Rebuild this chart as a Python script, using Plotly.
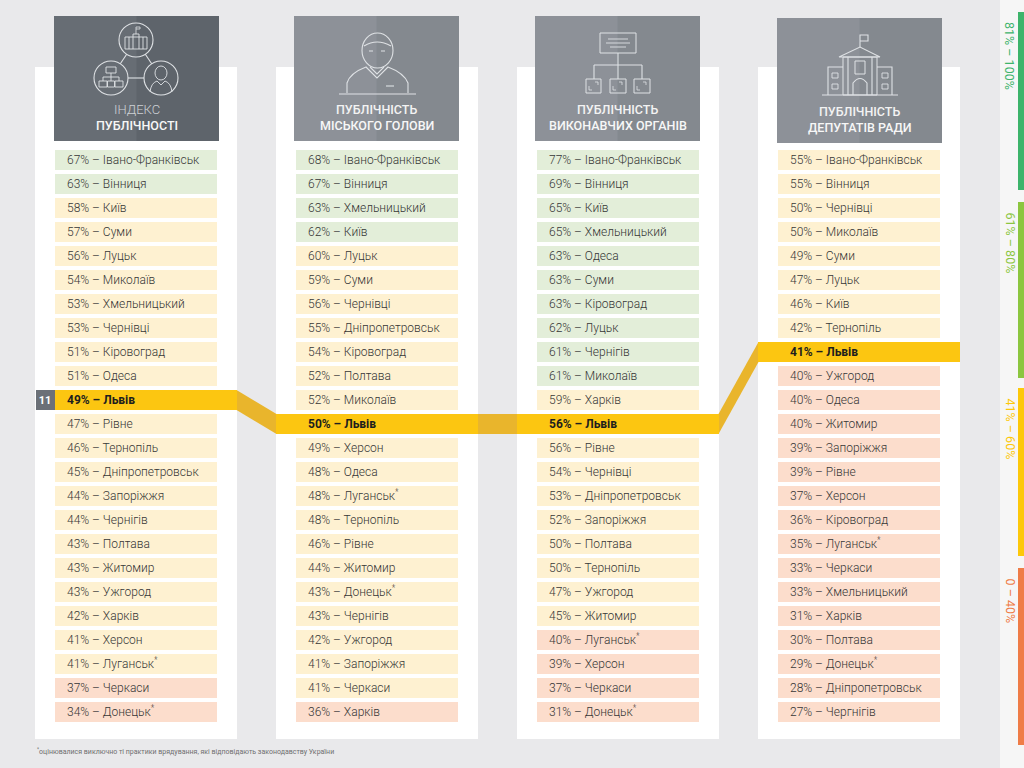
import plotly.graph_objects as go

# ---------------- DATA ----------------
titles_top = ["ІНДЕКС", "ПУБЛІЧНІСТЬ", "ПУБЛІЧНІСТЬ", "ПУБЛІЧНІСТЬ"]
titles_bottom = ["ПУБЛІЧНОСТІ", "МІСЬКОГО ГОЛОВИ", "ВИКОНАВЧИХ ОРГАНІВ", "ДЕПУТАТІВ РАДИ"]

index_cities = ["Івано-Франківськ", "Вінниця", "Київ", "Суми", "Луцьк", "Миколаїв",
                "Хмельницький", "Чернівці", "Кіровоград", "Одеса", "Львів", "Рівне",
                "Тернопіль", "Дніпропетровськ", "Запоріжжя", "Чернігів", "Полтава",
                "Житомир", "Ужгород", "Харків", "Херсон", "Луганськ*", "Черкаси", "Донецьк*"]
index_values = [67, 63, 58, 57, 56, 54, 53, 53, 51, 51, 49, 47, 46, 45, 44, 44, 43, 43,
                43, 42, 41, 41, 37, 34]

mayor_cities = ["Івано-Франківськ", "Вінниця", "Хмельницький", "Київ", "Луцьк", "Суми",
                "Чернівці", "Дніпропетровськ", "Кіровоград", "Полтава", "Миколаїв", "Львів",
                "Херсон", "Одеса", "Луганськ*", "Тернопіль", "Рівне", "Житомир", "Донецьк*",
                "Чернігів", "Ужгород", "Запоріжжя", "Черкаси", "Харків"]
mayor_values = [68, 67, 63, 62, 60, 59, 56, 55, 54, 52, 52, 50, 49, 48, 48, 48, 46, 44,
                43, 43, 42, 41, 41, 36]

exec_cities = ["Івано-Франківськ", "Вінниця", "Київ", "Хмельницький", "Одеса", "Суми",
               "Кіровоград", "Луцьк", "Чернігів", "Миколаїв", "Харків", "Львів", "Рівне",
               "Чернівці", "Дніпропетровськ", "Запоріжжя", "Полтава", "Тернопіль",
               "Ужгород", "Житомир", "Луганськ*", "Херсон", "Черкаси", "Донецьк*"]
exec_values = [77, 69, 65, 65, 63, 63, 63, 62, 61, 61, 59, 56, 56, 54, 53, 52, 50, 50,
               47, 45, 40, 39, 37, 31]

council_cities = ["Івано-Франківськ", "Вінниця", "Чернівці", "Миколаїв", "Суми", "Луцьк",
                  "Київ", "Тернопіль", "Львів", "Ужгород", "Одеса", "Житомир", "Запоріжжя",
                  "Рівне", "Херсон", "Кіровоград", "Луганськ*", "Черкаси", "Хмельницький",
                  "Харків", "Полтава", "Донецьк*", "Дніпропетровськ", "Чергнігів"]
council_values = [55, 55, 50, 50, 49, 47, 46, 42, 41, 40, 40, 40, 39, 39, 37, 36, 35, 33,
                  33, 31, 30, 29, 28, 27]

highlight_city = "Львів"

legend_labels = ["81% – 100%", "61% – 80%", "41% – 60%", "0 – 40%"]
legend_colors = ["#3db46b", "#8cc63f", "#fdc80a", "#ef7c47"]

footnote = "<sup>*</sup>оцінювалися виключно ті практики врядування, які відповідають законодавству України"

columns = [(index_cities, index_values), (mayor_cities, mayor_values),
           (exec_cities, exec_values), (council_cities, council_values)]

# ---------------- LAYOUT CONSTANTS ----------------
W, H = 1024, 768
BG = "#e9e9eb"
ROW0, STEP, ROWH = 160, 24, 20
CELL_L = [55, 296, 537, 778]
CELL_W = 162
PANEL_L = [35, 276, 517, 758]
PANEL_W = 202
PANEL_TOP, PANEL_BOT = 67, 739
HEAD_L = [54, 294, 535, 777]
HEAD_W = 165
GOLD = "#fcc611"
GOLD_DARK = "#e9b52c"
FONT = "Roboto"


def row_y(i):
    return ROW0 + STEP * i


def cell_color(v):
    if v > 80:
        return "#d5ecd9"
    if v > 60:
        return "#e3eed9"
    if v > 40:
        return "#fef1d1"
    return "#fcddcc"


def fmt(v, c, bold=False):
    name = c.replace("*", "<sup>*</sup>")
    s = f"{v}% – {name}"
    return f"<b>{s}</b>" if bold else s


fig = go.Figure()
shapes = []
annotations = []

# page pieces: white panels
for k in range(4):
    shapes.append(dict(type="rect", x0=PANEL_L[k], x1=PANEL_L[k] + PANEL_W,
                       y0=PANEL_TOP, y1=PANEL_BOT, fillcolor="white", line_width=0,
                       layer="below"))

# headers (two-tone)
for k in range(4):
    if k == 0:
        c1, c2 = "#676d74", "#5e646b"
    else:
        c1, c2 = "#8d9198", "#84898f"
    x0 = HEAD_L[k]
    y0 = 16 if k < 3 else 18
    mid = x0 + HEAD_W / 2
    shapes.append(dict(type="rect", x0=x0, x1=mid + 0.5, y0=y0, y1=y0 + 125,
                       fillcolor=c1, line_width=0, layer="below"))
    shapes.append(dict(type="rect", x0=mid, x1=x0 + HEAD_W, y0=y0, y1=y0 + 125,
                       fillcolor=c2, line_width=0, layer="below"))
    if k == 0:
        annotations.append(dict(x=mid, y=y0 + 93, text=titles_top[k], showarrow=False,
                                font=dict(family=FONT, size=13, color="#cdd1d5", weight=300),
                                xanchor="center", yanchor="middle"))
    else:
        annotations.append(dict(x=mid, y=y0 + 93, text=titles_top[k], showarrow=False,
                                font=dict(family=FONT, size=12.5, color="#f3f3f3", weight=500),
                                xanchor="center", yanchor="middle"))
    annotations.append(dict(x=mid, y=y0 + 109, text=titles_bottom[k], showarrow=False,
                            font=dict(family=FONT, size=12.5, color="#f7f7f7", weight=500),
                            xanchor="center", yanchor="middle"))

# ---------- icons (decorative line drawings) ----------
IC = "#dfe2e5"


def ipath(p, w=1.1):
    shapes.append(dict(type="path", path=p, line=dict(color=IC, width=w),
                       fillcolor="rgba(0,0,0,0)", layer="above"))


def icirc(cx, cy, r, w=1.1):
    shapes.append(dict(type="circle", x0=cx - r, x1=cx + r, y0=cy - r, y1=cy + r,
                       line=dict(color=IC, width=w), fillcolor="rgba(0,0,0,0)",
                       layer="above"))


def irect(x0, y0, x1, y1, w=1.0):
    shapes.append(dict(type="rect", x0=x0, x1=x1, y0=y0, y1=y1,
                       line=dict(color=IC, width=w), fillcolor="rgba(0,0,0,0)",
                       layer="above"))


# icon 1: three linked circles
icirc(136, 40, 17)
icirc(111, 78, 17)
icirc(161, 78, 17)
ipath("M 126.7 54.2 L 120.3 63.8")
ipath("M 145.3 54.2 L 151.7 63.8")
ipath("M 128 78 L 144 78")
irect(125, 37, 147, 49, 0.9)
ipath("M 129 37 L 129 49 M 133 34 L 133 49 M 139 34 L 139 49 M 143 37 L 143 49 M 133 34 L 139 34", 0.9)
ipath("M 136 34 L 136 27 L 140 27 L 140 29 L 136 29", 0.8)
irect(106, 67, 116, 73, 0.9)
ipath("M 111 73 L 111 77 M 103 77 L 119 77 M 103 77 L 103 81 M 111 77 L 111 81 M 119 77 L 119 81", 0.9)
irect(99, 81, 107, 87, 0.9)
irect(107.5, 81, 114.5, 87, 0.9)
irect(115, 81, 123, 87, 0.9)
shapes.append(dict(type="circle", x0=155, x1=167, y0=66, y1=80, line=dict(color=IC, width=0.9),
                   fillcolor="rgba(0,0,0,0)", layer="above"))
ipath("M 150 92 Q 151 83 157 81 L 161 85 L 165 81 Q 171 83 172 92", 0.9)

# icon 2: person
shapes.append(dict(type="circle", x0=362, x1=393, y0=33, y1=68, line=dict(color=IC, width=1.1),
                   fillcolor="rgba(0,0,0,0)", layer="above"))
ipath("M 364 46 Q 377 38 391 46")
ipath("M 347 93 L 347 83 Q 350 73 366 67 L 377 78 L 388 67 Q 404 73 408 83 L 408 93")
ipath("M 370 67 L 377 74 L 384 67")
ipath("M 339 94 L 416 94")
ipath("M 386 86 L 394 86")
ipath("M 369 51 L 373 51 M 381 51 L 385 51", 1.0)

# icon 3: org chart
irect(600, 33, 636, 53)
ipath("M 608 39 L 628 39 M 606 43 L 630 43 M 610 47 L 626 47", 0.9)
ipath("M 618 53 L 618 65 M 594 65 L 642 65 M 594 65 L 594 79 M 618 65 L 618 79 M 642 65 L 642 79")
irect(586, 79, 601, 93)
irect(610, 79, 626, 93)
irect(634, 79, 650, 93)
ipath("M 589 86 L 589 90 L 592 90 M 613 86 L 613 90 L 616 90 M 637 86 L 637 90 L 640 90", 0.8)
ipath("M 595 82 L 598 82 L 598 85 M 619 82 L 622 82 L 622 85 M 643 82 L 646 82 L 646 85", 0.8)

# icon 4: building
ipath("M 860 47 L 860 35 L 868 35 L 868 41 L 860 41")
ipath("M 839 57 L 860 47 L 880 57 Z")
irect(843, 57, 877, 95)
ipath("M 848 57 L 848 95 M 872 57 L 872 95")
irect(855, 61, 865, 74)
ipath("M 853 95 L 853 83 Q 860 74 867 83 L 867 95")
ipath("M 828 95 L 828 67 L 843 67 M 877 67 L 892 67 L 892 95")
irect(832, 73, 838, 78, 0.9)
irect(832, 84, 838, 89, 0.9)
irect(882, 73, 888, 78, 0.9)
irect(882, 84, 888, 89, 0.9)
ipath("M 822 95 L 898 95")

# ---------- highlight band connectors ----------
hl_idx = [cities.index(highlight_city) for cities, _ in columns]
for k in range(3):
    xa = PANEL_L[k] + PANEL_W
    xb = PANEL_L[k + 1]
    ya = row_y(hl_idx[k])
    yb = row_y(hl_idx[k + 1])
    h = ROWH / 2
    p = f"M {xa - 0.5} {ya - h} L {xb + 0.5} {yb - h} L {xb + 0.5} {yb + h} L {xa - 0.5} {ya + h} Z"
    shapes.append(dict(type="path", path=p, fillcolor=GOLD_DARK, line_width=0, layer="below"))

# ---------- cells (bars) ----------
for k, (cities, values) in enumerate(columns):
    ys, xs, bases, colors = [], [], [], []
    for i, v in enumerate(values):
        ys.append(row_y(i))
        if cities[i] == highlight_city:
            left = CELL_L[k] if k == 0 else PANEL_L[k]
            right = PANEL_L[k] + PANEL_W
            bases.append(left)
            xs.append(right - left)
            colors.append(GOLD)
        else:
            bases.append(CELL_L[k])
            xs.append(CELL_W)
            colors.append(cell_color(v))
    fig.add_trace(go.Bar(x=xs, y=ys, base=bases, orientation="h", width=ROWH,
                         marker=dict(color=colors, line_width=0), hoverinfo="skip",
                         showlegend=False))
    reg_t, reg_y, bold_t, bold_y = [], [], [], []
    for i, (c, v) in enumerate(zip(cities, values)):
        if c == highlight_city:
            bold_t.append(fmt(v, c, True))
            bold_y.append(row_y(i))
        else:
            reg_t.append(fmt(v, c))
            reg_y.append(row_y(i))
    tx = CELL_L[k] + 12
    fig.add_trace(go.Scatter(x=[tx] * len(reg_y), y=[y + 1 for y in reg_y], mode="text",
                             text=reg_t, textposition="middle right", hoverinfo="skip",
                             textfont=dict(family=FONT, size=12, color="#363636", weight=300),
                             showlegend=False))
    fig.add_trace(go.Scatter(x=[tx] * len(bold_y), y=[y + 1 for y in bold_y], mode="text",
                             text=bold_t, textposition="middle right", hoverinfo="skip",
                             textfont=dict(family=FONT, size=12, color="#1e1e1e"),
                             showlegend=False))

# rank badge in first column
rank = hl_idx[0] + 1
fig.add_trace(go.Bar(x=[CELL_L[0] - PANEL_L[0] - 1], y=[row_y(hl_idx[0])], base=[PANEL_L[0] + 1],
                     orientation="h", width=ROWH, marker=dict(color="#6b7077", line_width=0),
                     hoverinfo="skip", showlegend=False))
fig.add_trace(go.Scatter(x=[(PANEL_L[0] + CELL_L[0]) / 2], y=[row_y(hl_idx[0]) + 1], mode="text",
                         text=[f"<b>{rank}</b>"], textposition="middle center", hoverinfo="skip",
                         textfont=dict(family=FONT, size=11, color="white"), showlegend=False))

# ---------- legend strip on the right ----------
shapes.append(dict(type="rect", x0=1000, x1=1024, y0=0, y1=768, fillcolor="#f6f6f6",
                   line_width=0, layer="below"))
leg_tops = [12, 202, 388, 568]
leg_bots = [190, 378, 556, 745]
fig.add_trace(go.Bar(x=[6] * 4, y=[(a + b) / 2 for a, b in zip(leg_tops, leg_bots)],
                     base=[1018] * 4, orientation="h",
                     width=[b - a for a, b in zip(leg_tops, leg_bots)],
                     marker=dict(color=legend_colors, line_width=0), hoverinfo="skip",
                     showlegend=False))
for lbl, col, top in zip(legend_labels, legend_colors, leg_tops):
    annotations.append(dict(x=1010, y=top + 8, text=lbl, textangle=90, showarrow=False,
                            xanchor="center", yanchor="top",
                            font=dict(family=FONT, size=12.5, color=col, weight=400)))

# footnote
annotations.append(dict(x=35, y=751, text=footnote, showarrow=False, xanchor="left",
                        yanchor="middle", font=dict(family=FONT, size=7, color="#6f6f6f")))

fig.update_layout(
    width=W, height=H, margin=dict(l=0, r=0, t=0, b=0),
    paper_bgcolor=BG, plot_bgcolor=BG, barmode="overlay",
    xaxis=dict(range=[0, W], visible=False, fixedrange=True),
    yaxis=dict(range=[H, 0], visible=False, fixedrange=True),
    shapes=shapes, annotations=annotations, showlegend=False,
)

fig.write_html("out.html", config={"displayModeBar": False, "staticPlot": True},
               post_script="document.body.style.margin='0';document.body.style.overflow='hidden';")
